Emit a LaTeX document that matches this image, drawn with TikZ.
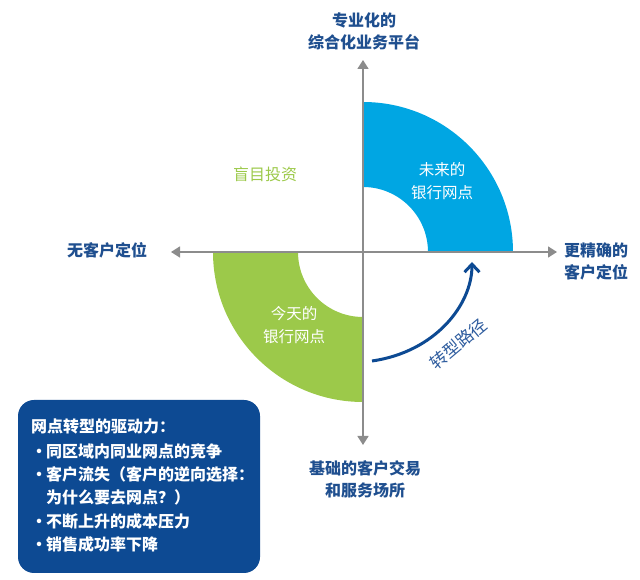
\documentclass[tikz,border=0pt]{standalone}
\usepackage{fontspec}
\setmainfont{Noto Sans CJK SC}
\usetikzlibrary{arrows.meta}
\definecolor{axisgray}{HTML}{8C8C8C}
\definecolor{navytext}{HTML}{1F4F8F}
\definecolor{boxblue}{HTML}{0D4A93}
\definecolor{cyanband}{HTML}{00A6E3}
\definecolor{greenband}{HTML}{9CC94A}
\definecolor{pathblue}{HTML}{2E5C9E}
\tikzset{
  axisline/.style={draw=axisgray, line width=1.6pt, {Triangle[width=11pt,length=9pt]}-{Triangle[width=11pt,length=9pt]}},
  axislabel/.style={inner sep=0pt, text=navytext, font=\fontsize{16}{22}\selectfont\bfseries, align=center},
  bandlabel/.style={inner sep=0pt, text=white, font=\fontsize{15.5}{22.5}\selectfont, align=center},
  boxline/.style={inner sep=0pt, anchor=base west, text=white, font=\fontsize{16}{16}\selectfont\bfseries},
  pathline/.style={draw=boxblue, line width=3pt, -{Straight Barb[length=8pt,width=15pt,line width=3pt]}}
}
\begin{document}
\begin{tikzpicture}[x=1pt,y=1pt]
\useasboundingbox (0,0) rectangle (640,580);
\coordinate (O) at (363,328);
% bands
\fill[cyanband] (428,328) arc[start angle=0,end angle=90,radius=65] -- (363,478) arc[start angle=90,end angle=0,radius=150] -- cycle;
\fill[greenband] (298,328) arc[start angle=180,end angle=270,radius=65] -- (363,178) arc[start angle=270,end angle=180,radius=150] -- cycle;
% axes
\coordinate (atop) at (363,520);
\coordinate (abot) at (363,135);
\coordinate (aleft) at (171,328);
\coordinate (aright) at (557,328);
\draw[axisline] (abot) -- (atop);
\draw[axisline] (aleft) -- (aright);
% axis labels
\node[axislabel] (ltop) at (364,549) {专业化的\\综合化业务平台};
\node[axislabel, anchor=west] (lright) at (564,319) {更精确的\\客户定位};
\node[axislabel] (lleft) at (107,330) {无客户定位};
\node[axislabel] (lbot) at (365,101) {基础的客户交易\\和服务场所};
\node[inner sep=0pt, text=greenband, font=\fontsize{16}{16}\selectfont] (blind) at (265,406) {盲目投资};
% band labels
\node[bandlabel] (future) at (442,399) {未来的\\银行网点};
\node[bandlabel] (today) at (294,255) {今天的\\银行网点};
% transformation path
\coordinate (ps) at (372,219);
\coordinate (pe) at (472,318);
\draw[pathline] (ps) .. controls (435,228) and (472,275) .. (pe);
\node[inner sep=0pt, text=pathblue, rotate=40, font=\fontsize{17}{17}\selectfont] (pathlbl) at (458,236) {转型路径};
% drivers box
\node[fill=boxblue, rounded corners=16pt, minimum width=242pt, minimum height=173pt, inner sep=0pt] (drivers) at (139,93.5) {};
\node[boxline] (d0) at (31,147.5) {网点转型的驱动力：};
\node[boxline] (b1) at (31,122.5) {•};
\node[boxline] (d1) at (46,122.5) {同区域内同业网点的竞争};
\node[boxline] (b2) at (31,99) {•};
\node[boxline] (d2) at (46,99) {客户流失（客户的逆向选择：};
\node[boxline] (d2b) at (46,76) {为什么要去网点？）};
\node[boxline] (b3) at (31,52.5) {•};
\node[boxline] (d3) at (46,52.5) {不断上升的成本压力};
\node[boxline] (b4) at (31,29.5) {•};
\node[boxline] (d4) at (46,29.5) {销售成功率下降};
\end{tikzpicture}
\end{document}
